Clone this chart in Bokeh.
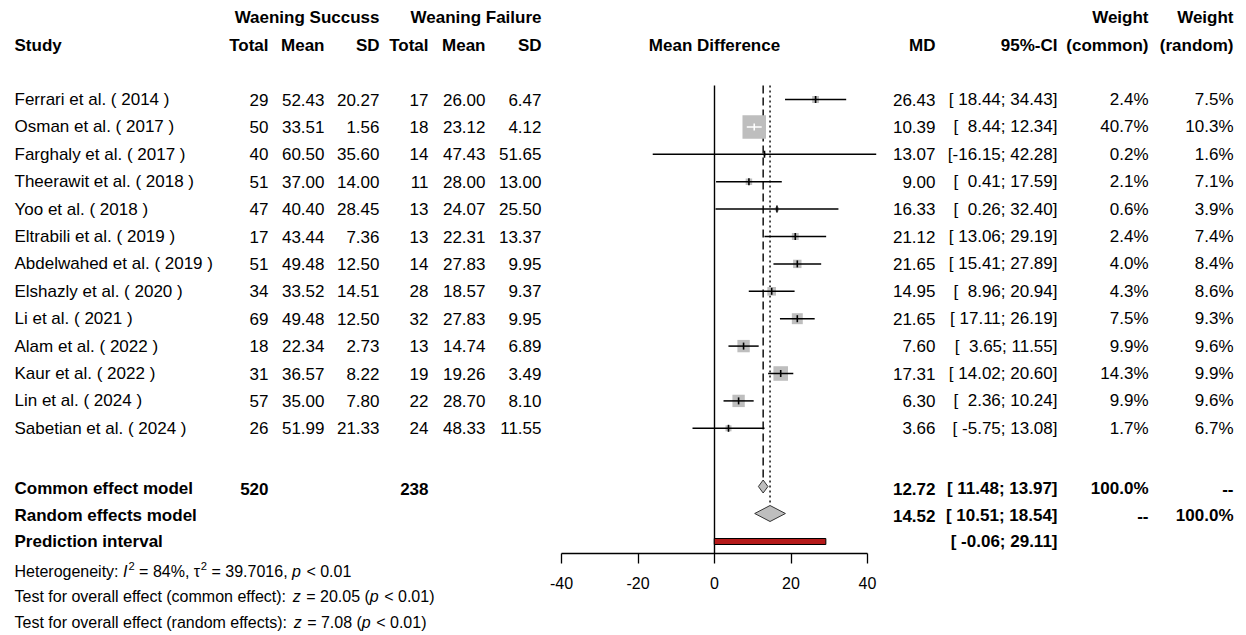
from bokeh.plotting import figure
from bokeh.models import Range1d, LinearAxis, FixedTicker, ColumnDataSource
from bokeh.core.properties import value
from bokeh.embed import file_html
from bokeh.resources import INLINE
import math

# ---- study data -------------------------------------------------------------
studies = ["Ferrari et al. ( 2014 )", "Osman et al. ( 2017 )", "Farghaly et al. ( 2017 )",
           "Theerawit et al. ( 2018 )", "Yoo et al. ( 2018 )", "Eltrabili et al. ( 2019 )",
           "Abdelwahed et al. ( 2019 )", "Elshazly et al. ( 2020 )", "Li et al. ( 2021 )",
           "Alam et al. ( 2022 )", "Kaur et al. ( 2022 )", "Lin et al. ( 2024 )",
           "Sabetian et al. ( 2024 )"]
n_success = [29, 50, 40, 51, 47, 17, 51, 34, 69, 18, 31, 57, 26]
mean_success = [52.43, 33.51, 60.50, 37.00, 40.40, 43.44, 49.48, 33.52, 49.48, 22.34, 36.57, 35.00, 51.99]
sd_success = [20.27, 1.56, 35.60, 14.00, 28.45, 7.36, 12.50, 14.51, 12.50, 2.73, 8.22, 7.80, 21.33]
n_failure = [17, 18, 14, 11, 13, 13, 14, 28, 32, 13, 19, 22, 24]
mean_failure = [26.00, 23.12, 47.43, 28.00, 24.07, 22.31, 27.83, 18.57, 27.83, 14.74, 19.26, 28.70, 48.33]
sd_failure = [6.47, 4.12, 51.65, 13.00, 25.50, 13.37, 9.95, 9.37, 9.95, 6.89, 3.49, 8.10, 11.55]
md = [26.43, 10.39, 13.07, 9.00, 16.33, 21.12, 21.65, 14.95, 21.65, 7.60, 17.31, 6.30, 3.66]
ci_lower = [18.44, 8.44, -16.15, 0.41, 0.26, 13.06, 15.41, 8.96, 17.11, 3.65, 14.02, 2.36, -5.75]
ci_upper = [34.43, 12.34, 42.28, 17.59, 32.40, 29.19, 27.89, 20.94, 26.19, 11.55, 20.60, 10.24, 13.08]
weight_common = [2.4, 40.7, 0.2, 2.1, 0.6, 2.4, 4.0, 4.3, 7.5, 9.9, 14.3, 9.9, 1.7]
weight_random = [7.5, 10.3, 1.6, 7.1, 3.9, 7.4, 8.4, 8.6, 9.3, 9.6, 9.9, 9.6, 6.7]

# pooled estimates
common_md, common_lower, common_upper = 12.72, 11.48, 13.97
random_md, random_lower, random_upper = 14.52, 10.51, 18.54
pred_lower, pred_upper = -0.06, 29.11
total_success, total_failure = 520, 238

axis_ticks = [-40, -20, 0, 20, 40]

# ---- layout constants (pixels) ---------------------------------------------
W, H = 1246, 635
AXIS_Y = 553
X0_PX, PX_PER_UNIT = 714, 3.825
ROW_TOP, ROW_STEP = 99, 27.4
Y_COMMON, Y_RANDOM, Y_PRED = 488, 515, 541
FONT = "Liberation Sans"
FS = "17px"
FS_STAT = 16.0
NB = "\u00a0"  # non-breaking space keeps padding inside SVG text

# column right edges
C_N1, C_M1, C_SD1, C_N2, C_M2, C_SD2 = 268, 324, 379, 428, 485, 541
C_MD, C_CI, C_WC, C_WR = 935, 1057, 1148, 1233

row_y = [ROW_TOP + ROW_STEP * i for i in range(len(studies))]

p = figure(width=W, height=H, output_backend="svg", toolbar_location=None,
           x_axis_type=None, y_axis_type=None,
           x_range=Range1d(-X0_PX / PX_PER_UNIT, (W - X0_PX) / PX_PER_UNIT),
           y_range=Range1d(H, 0),
           min_border_left=0, min_border_right=0, min_border_top=0,
           min_border_bottom=0)
p.extra_x_ranges = {"px": Range1d(0, W)}
p.outline_line_color = None
p.background_fill_color = "white"
p.border_fill_color = "white"
p.grid.visible = False

# mean-difference axis, pinned inside the frame and limited to -40..40
ax = LinearAxis(bounds=(-40, 40), ticker=FixedTicker(ticks=axis_ticks),
                fixed_location=AXIS_Y)
ax.major_tick_out = 10
ax.major_tick_in = 0
ax.minor_tick_out = 0
ax.minor_tick_in = 0
ax.axis_line_width = 1.3
ax.major_tick_line_width = 1.3
ax.major_label_standoff = 13
ax.major_label_overrides = {t: str(t) for t in axis_ticks}
ax.major_label_text_font = FONT
ax.major_label_text_font_size = "16px"
ax.major_label_text_color = "black"
p.add_layout(ax, "below")

# ---- reference lines ----------------------------------------------------------
p.segment(x0=[0], y0=[85], x1=[0], y1=[AXIS_Y], line_color="black", line_width=1.4)
p.segment(x0=[common_md], y0=[85], x1=[common_md], y1=[Y_COMMON - 9],
          line_color="black", line_width=1.4, line_dash="8 4")
p.segment(x0=[random_md], y0=[85], x1=[random_md], y1=[Y_RANDOM - 10],
          line_color="black", line_width=1.4, line_dash="2 3")

# ---- study squares and confidence intervals -----------------------------------
side = [3.45 * math.sqrt(w) + 1.5 for w in weight_common]
p.rect(x=md, y=row_y, width=side, height=side, width_units="screen",
       height_units="screen", fill_color="#BEBEBE", line_color=None)

inside = [(hi - lo) * PX_PER_UNIT < s for lo, hi, s in zip(ci_lower, ci_upper, side)]
line_col = ["white" if f else "black" for f in inside]
src_ci = ColumnDataSource(dict(x0=ci_lower, x1=ci_upper, y=row_y, c=line_col, m=md))
p.segment(x0="x0", y0="y", x1="x1", y1="y", line_color="c", line_width=1.5, source=src_ci)
p.rect(x="m", y="y", width=1.6, height=7, width_units="screen", height_units="screen",
       fill_color="c", line_color=None, source=src_ci)

# ---- pooled diamonds ------------------------------------------------------------
def diamond(lo, mid, hi, cy, h):
    return [lo, mid, hi, mid], [cy, cy - h, cy, cy + h]

dx1, dy1 = diamond(common_lower, common_md, common_upper, Y_COMMON - 2, 6.5)
dx2, dy2 = diamond(random_lower, random_md, random_upper, Y_RANDOM - 2, 8)
p.patches(xs=[dx1, dx2], ys=[dy1, dy2], fill_color="#BEBEBE", line_color="#333333",
          line_width=1)

# prediction interval bar
p.quad(left=[pred_lower], right=[pred_upper], top=[Y_PRED - 3], bottom=[Y_PRED + 3],
       fill_color="#B51A1A", line_color="black", line_width=1)

# ---- text helpers -----------------------------------------------------------------
def put(xs, ys, texts, align="right", bold=False, size=FS):
    src = ColumnDataSource(dict(x=xs, y=ys, t=[t.replace(" ", NB) for t in texts]))
    p.text(x="x", y="y", text="t", source=src, x_range_name="px",
           text_align=align, text_baseline="middle", text_color="black",
           text_font=value(FONT), text_font_size=size,
           text_font_style="bold" if bold else "normal")

def fmt_ci(lo, hi):
    return "[" + f"{lo:.2f}".rjust(6) + "; " + f"{hi:.2f}".rjust(5) + "]"

# header
put([C_SD1, C_SD2, C_WC, C_WR], [17] * 4,
    ["Waening Succuss", "Weaning Failure", "Weight", "Weight"], bold=True)
put([14], [45], ["Study"], align="left", bold=True)
put([C_N1, C_M1, C_SD1, C_N2, C_M2, C_SD2, C_MD, C_CI, C_WC, C_WR], [45] * 10,
    ["Total", "Mean", "SD", "Total", "Mean", "SD", "MD", "95%-CI", "(common)", "(random)"],
    bold=True)
put([714], [45], ["Mean Difference"], align="center", bold=True)

# study rows
k = len(studies)
put([14] * k, row_y, studies, align="left")
put([C_N1] * k, row_y, [str(v) for v in n_success])
put([C_M1] * k, row_y, [f"{v:.2f}" for v in mean_success])
put([C_SD1] * k, row_y, [f"{v:.2f}" for v in sd_success])
put([C_N2] * k, row_y, [str(v) for v in n_failure])
put([C_M2] * k, row_y, [f"{v:.2f}" for v in mean_failure])
put([C_SD2] * k, row_y, [f"{v:.2f}" for v in sd_failure])
put([C_MD] * k, row_y, [f"{v:.2f}" for v in md])
put([C_CI] * k, row_y, [fmt_ci(a, b) for a, b in zip(ci_lower, ci_upper)])
put([C_WC] * k, row_y, [f"{v:.1f}%" for v in weight_common])
put([C_WR] * k, row_y, [f"{v:.1f}%" for v in weight_random])

# pooled rows
put([14, 14, 14], [Y_COMMON, Y_RANDOM, Y_PRED],
    ["Common effect model", "Random effects model", "Prediction interval"],
    align="left", bold=True)
put([C_N1, C_N2], [Y_COMMON] * 2, [str(total_success), str(total_failure)], bold=True)
put([C_MD, C_MD], [Y_COMMON, Y_RANDOM], [f"{common_md:.2f}", f"{random_md:.2f}"], bold=True)
put([C_CI, C_CI, C_CI], [Y_COMMON, Y_RANDOM, Y_PRED],
    [fmt_ci(common_lower, common_upper), fmt_ci(random_lower, random_upper),
     fmt_ci(pred_lower, pred_upper)], bold=True)
put([C_WC, C_WC], [Y_COMMON, Y_RANDOM], ["100.0%", "--"], bold=True)
put([C_WR, C_WR], [Y_COMMON, Y_RANDOM], ["--", "100.0%"], bold=True)

# ---- statistics lines under the table (mixed styles) --------------------------------
ADV = {' ': 278, '(': 333, ')': 333, ',': 278, '.': 278, ':': 278, '<': 584, '=': 584,
       '%': 889, '-': 333, 'H': 722, 'I': 278, 'T': 611, 'a': 556, 'c': 500, 'd': 556,
       'e': 556, 'f': 278, 'g': 556, 'i': 222, 'l': 222, 'm': 833, 'n': 556, 'o': 556,
       'p': 556, 'r': 333, 's': 500, 't': 278, 'v': 500, 'y': 500, 'z': 500, 'τ': 440}

def text_width(s, size):
    return sum(ADV.get(c, 556) for c in s) * size / 1000.0

stat = dict(x=[], y=[], t=[], style=[], size=[])

def stat_line(y, pieces):
    x = 14.0
    for txt, style, sup in pieces:
        size = FS_STAT * (0.7 if sup else 1.0)
        stat["x"].append(x)
        stat["y"].append(y - (6 if sup else 0))
        stat["t"].append(txt.replace(" ", NB))
        stat["style"].append(style)
        stat["size"].append(f"{size:.1f}px")
        x += text_width(txt, size) + (1.0 if style == "italic" else 0.0)

stat_line(571, [("Heterogeneity: ", "normal", False), ("I", "italic", False),
                ("2", "normal", True), (" = 84%, ", "normal", False),
                ("τ", "normal", False), ("2", "normal", True),
                (" = 39.7016, ", "normal", False), ("p", "italic", False),
                (" < 0.01", "normal", False)])
stat_line(596, [("Test for overall effect (common effect): ", "normal", False),
                ("z", "italic", False), (" = 20.05 (", "normal", False),
                ("p", "italic", False), (" < 0.01)", "normal", False)])
stat_line(622, [("Test for overall effect (random effects): ", "normal", False),
                ("z", "italic", False), (" = 7.08 (", "normal", False),
                ("p", "italic", False), (" < 0.01)", "normal", False)])

p.text(x="x", y="y", text="t", source=ColumnDataSource(stat), x_range_name="px",
       text_align="left", text_baseline="middle", text_color="black",
       text_font=value(FONT), text_font_size="size", text_font_style="style")

open("out.html", "w").write(file_html(p, INLINE))
